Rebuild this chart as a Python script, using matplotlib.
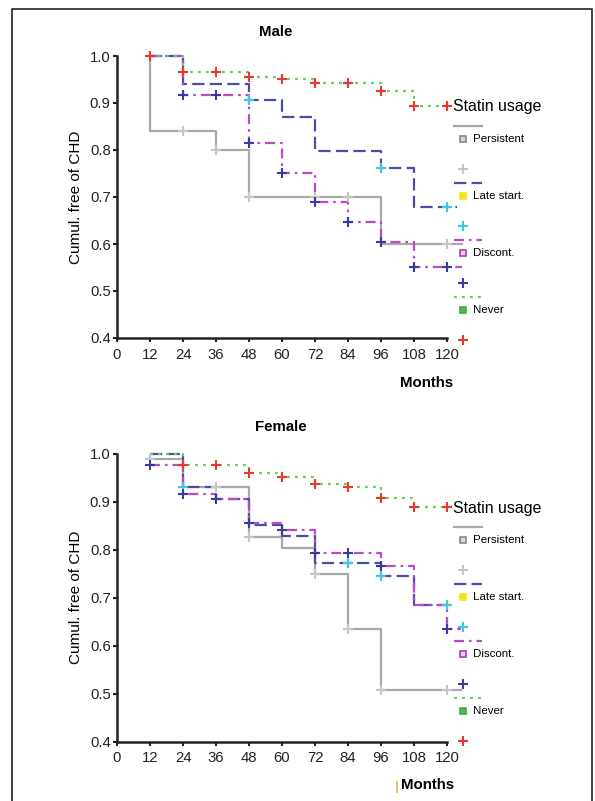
import matplotlib
matplotlib.use('Agg')
import matplotlib.pyplot as plt
from matplotlib import font_manager
from matplotlib.lines import Line2D

# font: narrow sans if we have it (the original looks like Arial Narrow)
names = set(f.name for f in font_manager.fontManager.ttflist)
NARROW = 'Liberation Sans Narrow' if 'Liberation Sans Narrow' in names else 'Liberation Sans'
plt.rcParams['font.family'] = [NARROW, 'DejaVu Sans']
SHRINK = 1.0 if NARROW == 'Liberation Sans Narrow' else 0.86

groups = ['Persistent', 'Late start.', 'Discont.', 'Never']
x_ticks = [0, 12, 24, 36, 48, 60, 72, 84, 96, 108, 120]
y_ticks = [0.4, 0.5, 0.6, 0.7, 0.8, 0.9, 1.0]

# ---- Male: step times / survival, censor times ----
male_pers_t = [12, 12, 36, 48, 96, 125.3]
male_pers_s = [1.0, 0.84, 0.80, 0.70, 0.60, 0.60]
male_pers_c = [24, 36, 48, 72, 84, 120]
male_late_t = [12, 24, 48, 60, 72, 96, 108, 123.5]
male_late_s = [1.0, 0.94, 0.906, 0.871, 0.798, 0.762, 0.679, 0.679]
male_late_c = [48, 96, 120]
male_disc_t = [12, 24, 48, 60, 72, 84, 96, 108, 125.3]
male_disc_s = [1.0, 0.917, 0.815, 0.752, 0.69, 0.647, 0.605, 0.552, 0.552]
male_disc_c = [24, 36, 48, 60, 72, 84, 96, 108, 120]
male_never_t = [12, 24, 48, 60, 72, 96, 108, 120]
male_never_s = [1.0, 0.967, 0.956, 0.95, 0.943, 0.926, 0.894, 0.894]
male_never_c = [12, 24, 36, 48, 60, 72, 84, 96, 108, 120]

# ---- Female ----
fem_pers_t = [12, 24, 48, 60, 72, 84, 96, 125]
fem_pers_s = [0.988, 0.930, 0.827, 0.803, 0.749, 0.634, 0.507, 0.507]
fem_pers_c = [12, 36, 48, 72, 84, 96, 120]
fem_late_t = [12, 24, 36, 48, 60, 72, 96, 108, 123]
fem_late_s = [1.0, 0.93, 0.906, 0.852, 0.829, 0.773, 0.745, 0.685, 0.685]
fem_late_c = [24, 84, 96, 120]
fem_disc_t = [12, 24, 36, 48, 60, 72, 96, 108, 120, 125]
fem_disc_s = [0.976, 0.917, 0.906, 0.855, 0.841, 0.793, 0.766, 0.685, 0.634, 0.634]
fem_disc_c = [12, 24, 36, 48, 60, 72, 84, 96, 120]
fem_never_t = [12, 24, 48, 60, 72, 84, 96, 108, 120]
fem_never_s = [1.0, 0.976, 0.96, 0.952, 0.937, 0.93, 0.908, 0.888, 0.888]
fem_never_c = [24, 36, 48, 60, 72, 84, 96, 108, 120]

W, H = 595, 801
line_col = ['#a8a8a8', '#4b4ba8', '#b84cc4', '#66d066']
line_ls = ['-', (0, (5.5, 2.4)), (0, (4.5, 2.2, 1.2, 2.2)), (0, (1.3, 2.3))]
cens_col = ['#c6c6c6', '#3cc8e8', '#3a3aa0', '#e83a2a']
sq_face = ['#d8d8d8', '#f2e41e', '#f0c8f0', '#4cc04c']
sq_edge = ['#888888', '#f2e41e', '#a040b0', '#44aa44']


def px(x, y):
    return x / W, 1 - y / H


def surv_at(t, s, c):
    val = s[0]
    for ti, si in zip(t, s):
        if ti <= c:
            val = si
    return val


def draw_panel(ax, series):
    for i, (t, s, c) in enumerate(series):
        ax.step(t, s, where='post', color=line_col[i], ls=line_ls[i], lw=1.6,
                clip_on=False, zorder=3 + i * 0.1)
    for i, (t, s, c) in enumerate(series):
        ax.plot(c, [surv_at(t, s, ci) for ci in c], ls='none', marker='+',
                ms=6.5, mew=1.5, color=cens_col[i], clip_on=False, zorder=5)
    ax.set_xlim(0, 120)
    ax.set_ylim(0.4, 1.0)
    ax.set_xticks(x_ticks)
    ax.set_yticks(y_ticks)
    ax.set_yticklabels(['%.1f' % v for v in y_ticks])
    for sp in ['top', 'right']:
        ax.spines[sp].set_visible(False)
    for sp in ['left', 'bottom']:
        ax.spines[sp].set_linewidth(1.8)
        ax.spines[sp].set_color('#222222')
    ax.tick_params(axis='x', length=3, width=1.5, pad=4, labelsize=12.5 * SHRINK, colors='#222222')
    ax.tick_params(axis='y', length=3, width=1.5, pad=1.5, labelsize=12.5 * SHRINK, colors='#222222')
    ax.set_ylabel('Cumul. free of CHD', fontsize=12.8 * SHRINK, labelpad=5)


def draw_legend(fig, y0):
    # y0 = centre of the "Statin usage" title in pixels
    fig.text(*px(453, y0), 'Statin usage', fontsize=13.3 * SHRINK, va='center', ha='left')
    for i, g in enumerate(groups):
        ly = y0 + 19 + i * 57
        xa, ya = px(454, ly)
        xb, _ = px(482, ly)
        fig.add_artist(Line2D([xa, xb], [ya, ya], color=line_col[i], ls=line_ls[i], lw=1.6))
        fig.add_artist(Line2D([px(463, 0)[0]], [px(0, ly + 13)[1]], marker='s', ms=4.5,
                              mfc=sq_face[i], mec=sq_edge[i], mew=1.2, ls='none'))
        fig.text(*px(473, ly + 13), g, fontsize=9.6 * SHRINK, va='center', ha='left')
        fig.add_artist(Line2D([px(463, 0)[0]], [px(0, ly + 43)[1]], marker='+', ms=6.5,
                              mew=1.5, color=cens_col[i], ls='none'))


fig = plt.figure(figsize=(W / 100, H / 100), dpi=100)

ax1 = fig.add_axes([117 / W, 1 - 338 / H, 330 / W, 282 / H])
draw_panel(ax1, [(male_pers_t, male_pers_s, male_pers_c),
                 (male_late_t, male_late_s, male_late_c),
                 (male_disc_t, male_disc_s, male_disc_c),
                 (male_never_t, male_never_s, male_never_c)])
ax2 = fig.add_axes([117 / W, 1 - 741.7 / H, 330 / W, 288 / H])
draw_panel(ax2, [(fem_pers_t, fem_pers_s, fem_pers_c),
                 (fem_late_t, fem_late_s, fem_late_c),
                 (fem_disc_t, fem_disc_s, fem_disc_c),
                 (fem_never_t, fem_never_s, fem_never_c)])

bold = dict(fontsize=10.8, fontweight='bold', family=['Liberation Sans', 'DejaVu Sans'],
            ha='center', va='center')
fig.text(*px(276, 31.5), 'Male', **bold)
fig.text(*px(281, 427), 'Female', **bold)
fig.text(*px(427, 383.5), 'Months', **bold)
fig.text(*px(428, 785), 'Months', **bold)

draw_legend(fig, 107)
draw_legend(fig, 508)

# little mark before the lower "Months"
xa, ya = px(397, 782)
_, yb = px(397, 792)
fig.add_artist(Line2D([xa, xa], [ya, yb], color='#e0b84a', lw=1.2))

# page frame (left, top, right)
fl, ft = px(12, 9)
fr, fb = px(592, 801)
fig.add_artist(Line2D([fl, fl, fr, fr], [fb, ft, ft, fb], color='#333333', lw=1.3))

fig.savefig('out.png', dpi=100)
